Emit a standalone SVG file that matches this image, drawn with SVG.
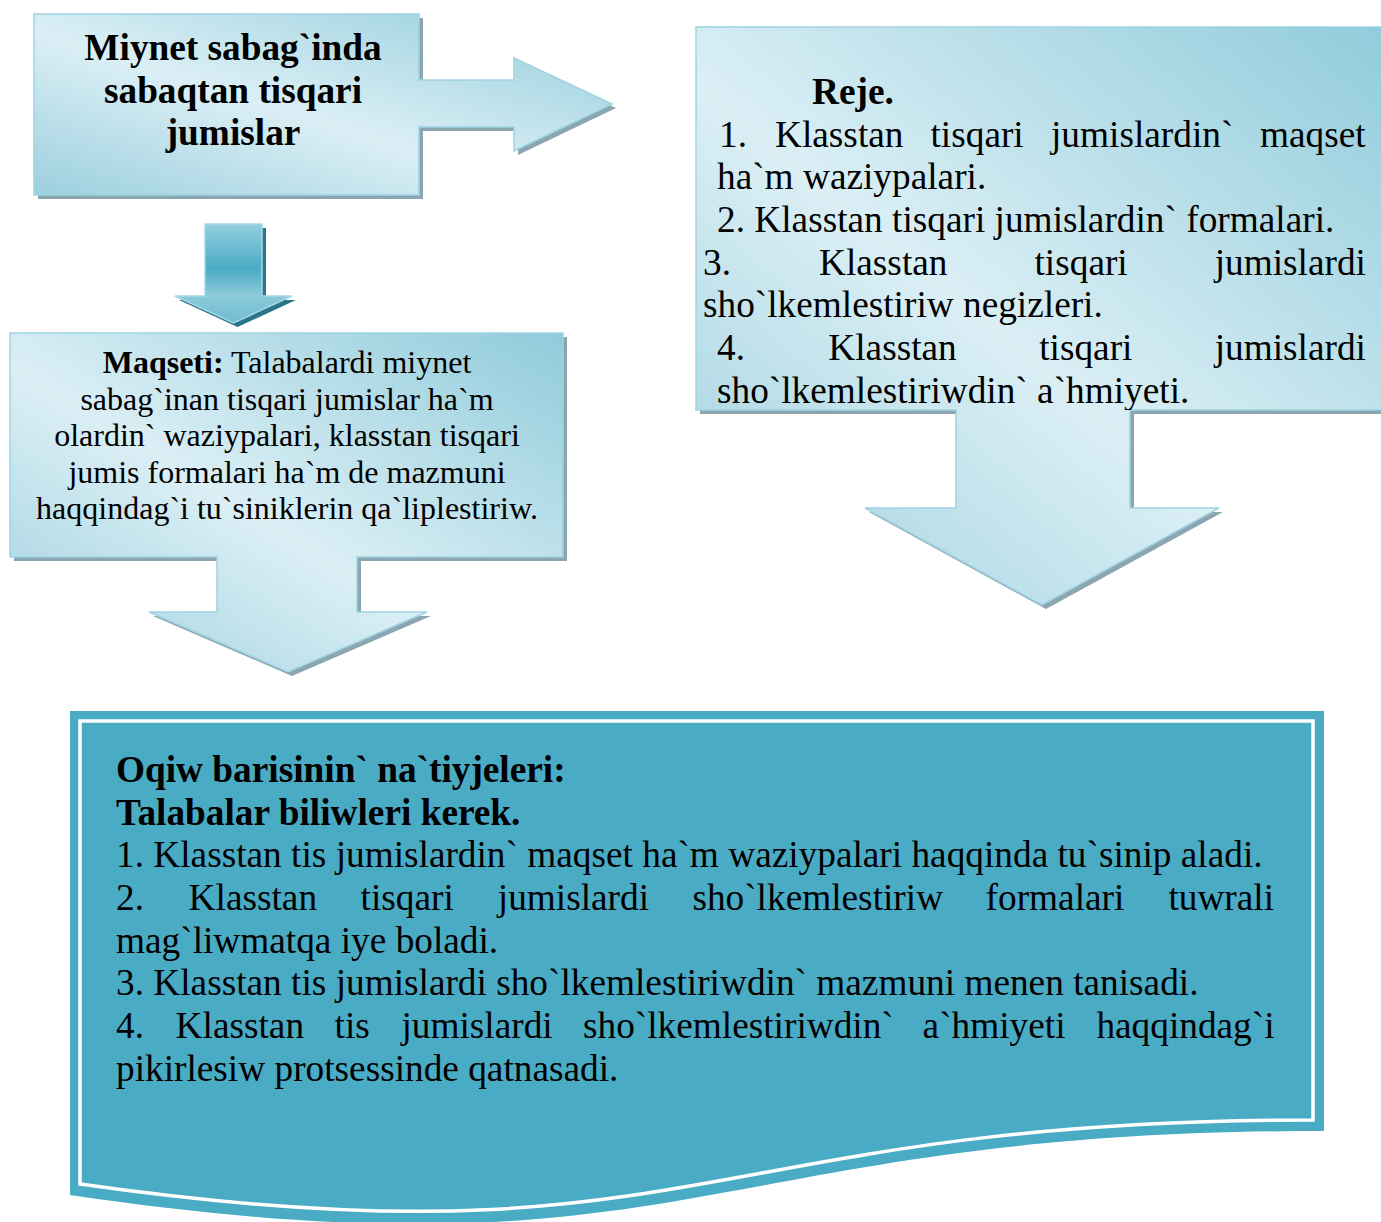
<svg xmlns="http://www.w3.org/2000/svg" width="1381" height="1222" viewBox="0 0 1381 1222">
<style>
  text { font-family: "Liberation Serif", "Times New Roman", serif; fill: #000; }
  .t37 { font-size: 37.3px; }
  .t32 { font-size: 32px; }
  .b { font-weight: bold; }
  .shape { fill: url(#lightGrad); stroke: #9fd3e1; stroke-width: 1.5; }
  .shadow { fill: #8ba6b0; }
</style>
<defs>
  <linearGradient id="lightGrad" x1="0" y1="1" x2="1" y2="0">
    <stop offset="0" stop-color="#9ccfde"/>
    <stop offset="0.45" stop-color="#dbeff5"/>
    <stop offset="1" stop-color="#90cbdb"/>
  </linearGradient>
  <linearGradient id="darkGrad" x1="0" y1="0" x2="0" y2="1">
    <stop offset="0" stop-color="#95cfde"/>
    <stop offset="0.45" stop-color="#4aabc5"/>
    <stop offset="0.72" stop-color="#8ccada"/>
    <stop offset="1" stop-color="#6fbcd0"/>
  </linearGradient>
  <clipPath id="planClip">
    <rect x="696" y="27" width="700" height="383"/>
  </clipPath>
</defs>

<g id="node-title">
  <path class="shadow" transform="translate(4,4)" d="M34,14 H419 V80 H514 V58 L612,104 L514,151 V127 H419 V195 H34 Z"/>
  <path class="shape" d="M34,14 H419 V80 H514 V58 L612,104 L514,151 V127 H419 V195 H34 Z"/>
  <text class="t37 b" text-anchor="middle" x="233" y="60">Miynet sabag`inda</text>
  <text class="t37 b" text-anchor="middle" x="233" y="102.5">sabaqtan tisqari</text>
  <text class="t37 b" text-anchor="middle" x="233" y="145">jumislar</text>
</g>

<g id="node-goal">
  <path class="shadow" transform="translate(4,4)" d="M10,333 H563 V557 H357 V612 H427 L288,672 L149,612 H217 V557 H10 Z"/>
  <path class="shape" d="M10,333 H563 V557 H357 V612 H427 L288,672 L149,612 H217 V557 H10 Z"/>
  <text class="t32" text-anchor="middle" x="287" y="373"><tspan class="b">Maqseti:</tspan> Talabalardi miynet</text>
  <text class="t32" text-anchor="middle" x="287" y="410">sabag`inan tisqari jumislar ha`m</text>
  <text class="t32" text-anchor="middle" x="287" y="446">olardin` waziypalari, klasstan tisqari</text>
  <text class="t32" text-anchor="middle" x="287" y="483">jumis formalari ha`m de mazmuni</text>
  <text class="t32" text-anchor="middle" x="287" y="519">haqqindag`i tu`siniklerin qa`liplestiriw.</text>
</g>

<g id="node-plan">
  <path class="shadow" transform="translate(4,4)" d="M696,27 H1395 V410 H1130 V508 H1219 L1042,605 L865,508 H956 V410 H696 Z"/>
  <path class="shape" d="M696,27 H1395 V410 H1130 V508 H1219 L1042,605 L865,508 H956 V410 H696 Z"/>
  <g clip-path="url(#planClip)">
    <text class="t37 b" x="812" y="104">Reje.</text>
    <text class="t37" y="146.5"><tspan x="719">1.</tspan><tspan x="775">Klasstan</tspan><tspan x="930.5">tisqari</tspan><tspan x="1051">jumislardin`</tspan><tspan x="1260">maqset</tspan></text>
    <text class="t37" x="717" y="189">ha`m waziypalari.</text>
    <text class="t37" x="717" y="232">2. Klasstan tisqari jumislardin` formalari.</text>
    <text class="t37" y="274.5"><tspan x="703">3.</tspan><tspan x="819">Klasstan</tspan><tspan x="1034.5">tisqari</tspan><tspan x="1214.7">jumislardi</tspan></text>
    <text class="t37" x="703" y="317">sho`lkemlestiriw negizleri.</text>
    <text class="t37" y="360"><tspan x="717">4.</tspan><tspan x="828.3">Klasstan</tspan><tspan x="1039.2">tisqari</tspan><tspan x="1214.7">jumislardi</tspan></text>
    <text class="t37" x="717" y="402.5">sho`lkemlestiriwdin` a`hmiyeti.</text>
  </g>
</g>

<g id="connectors">
  <path fill="#2b7588" transform="translate(4,4)" d="M205,224 H262 V296 H292 L233.5,323 L175,296 H205 Z"/>
  <path fill="url(#darkGrad)" stroke="#a6d7e4" stroke-width="1.5" d="M205,224 H262 V296 H292 L233.5,323 L175,296 H205 Z"/>
</g>

<g id="node-results">
  <path fill="#4aabc5" d="M70,711 H1324 V1131 C697,1131 697,1287 70,1195 Z"/>
  <path fill="none" stroke="#ffffff" stroke-width="3.5" d="M80,721 H1313 V1120 C696,1120 696,1272 80,1184 Z"/>
  <text class="t37 b" x="116" y="782">Oqiw barisinin` na`tiyjeleri:</text>
  <text class="t37 b" x="116" y="825">Talabalar biliwleri kerek.</text>
  <text class="t37" x="116" y="867">1. Klasstan tis jumislardin` maqset ha`m waziypalari haqqinda tu`sinip aladi.</text>
  <text class="t37" y="910"><tspan x="116">2.</tspan><tspan x="188.6">Klasstan</tspan><tspan x="360.6">tisqari</tspan><tspan x="497.8">jumislardi</tspan><tspan x="692.4">sho`lkemlestiriw</tspan><tspan x="985.6">formalari</tspan><tspan x="1168.4">tuwrali</tspan></text>
  <text class="t37" x="116" y="953">mag`liwmatqa iye boladi.</text>
  <text class="t37" x="116" y="995">3. Klasstan tis jumislardi sho`lkemlestiriwdin` mazmuni menen tanisadi.</text>
  <text class="t37" y="1038"><tspan x="116">4.</tspan><tspan x="175.6">Klasstan</tspan><tspan x="334.6">tis</tspan><tspan x="401.4">jumislardi</tspan><tspan x="583">sho`lkemlestiriwdin`</tspan><tspan x="922.6">a`hmiyeti</tspan><tspan x="1096.4">haqqindag`i</tspan></text>
  <text class="t37" x="116" y="1081">pikirlesiw protsessinde qatnasadi.</text>
</g>
</svg>
